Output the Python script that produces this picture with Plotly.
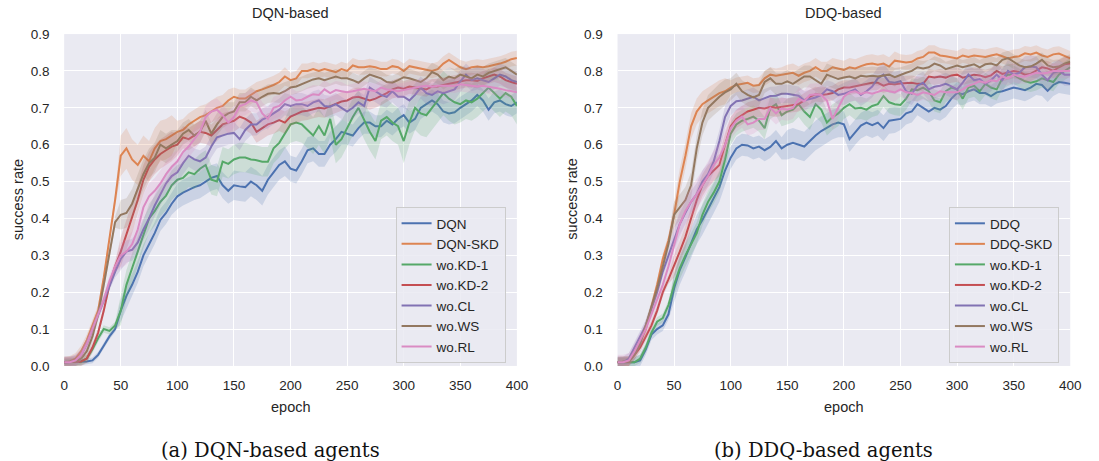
import numpy as np
import plotly.graph_objects as go

# ---------------- data ----------------
epochs = list(range(0, 401, 5))

series_names_left = ["DQN", "DQN-SKD", "wo.KD-1", "wo.KD-2", "wo.CL", "wo.WS", "wo.RL"]
series_names_right = ["DDQ", "DDQ-SKD", "wo.KD-1", "wo.KD-2", "wo.CL", "wo.WS", "wo.RL"]

# DQN-based panel (mean success rate every 5 epochs)
dqn_dqn = [
    0.010, 0.010, 0.010, 0.010, 0.012, 0.015, 0.030, 0.055, 0.080, 0.100,
    0.150, 0.190, 0.220, 0.255, 0.300, 0.330, 0.360, 0.396, 0.415, 0.440,
    0.460, 0.470, 0.478, 0.485, 0.490, 0.500, 0.510, 0.515, 0.490, 0.475,
    0.490, 0.487, 0.485, 0.500, 0.490, 0.475, 0.505, 0.525, 0.545, 0.555,
    0.535, 0.530, 0.555, 0.585, 0.590, 0.575, 0.575, 0.600, 0.615, 0.635,
    0.630, 0.625, 0.645, 0.660, 0.660, 0.650, 0.650, 0.665, 0.655, 0.670,
    0.680, 0.660, 0.670, 0.700, 0.710, 0.720, 0.710, 0.690, 0.685, 0.688,
    0.700, 0.710, 0.720, 0.735, 0.720, 0.695, 0.715, 0.720, 0.710, 0.705,
    0.715]
dqn_skd = [
    0.010, 0.012, 0.020, 0.040, 0.070, 0.110, 0.150, 0.240, 0.340, 0.450,
    0.570, 0.590, 0.560, 0.545, 0.570, 0.555, 0.590, 0.610, 0.615, 0.625,
    0.635, 0.640, 0.655, 0.665, 0.675, 0.680, 0.690, 0.700, 0.705, 0.720,
    0.730, 0.725, 0.725, 0.735, 0.745, 0.750, 0.755, 0.762, 0.770, 0.785,
    0.775, 0.780, 0.800, 0.800, 0.805, 0.800, 0.805, 0.800, 0.797, 0.805,
    0.800, 0.815, 0.810, 0.810, 0.813, 0.810, 0.805, 0.805, 0.813, 0.810,
    0.800, 0.813, 0.810, 0.806, 0.805, 0.800, 0.805, 0.820, 0.830, 0.820,
    0.810, 0.805, 0.810, 0.812, 0.810, 0.813, 0.816, 0.820, 0.825, 0.832,
    0.835]
dqn_kd1 = [
    0.010, 0.010, 0.010, 0.012, 0.020, 0.045, 0.075, 0.100, 0.095, 0.110,
    0.150, 0.220, 0.265, 0.310, 0.360, 0.400, 0.420, 0.445, 0.462, 0.490,
    0.505, 0.510, 0.525, 0.520, 0.535, 0.545, 0.505, 0.500, 0.554, 0.548,
    0.560, 0.565, 0.565, 0.560, 0.558, 0.554, 0.554, 0.590, 0.605, 0.630,
    0.655, 0.660, 0.655, 0.640, 0.625, 0.650, 0.625, 0.670, 0.600, 0.615,
    0.645, 0.675, 0.700, 0.665, 0.635, 0.610, 0.665, 0.675, 0.660, 0.650,
    0.610, 0.660, 0.700, 0.685, 0.680, 0.700, 0.720, 0.740, 0.725, 0.715,
    0.710, 0.720, 0.715, 0.725, 0.740, 0.755, 0.740, 0.725, 0.740, 0.730,
    0.705]
dqn_kd2 = [
    0.010, 0.010, 0.010, 0.012, 0.020, 0.050, 0.090, 0.150, 0.220, 0.270,
    0.310, 0.355, 0.400, 0.450, 0.505, 0.540, 0.560, 0.575, 0.585, 0.595,
    0.600, 0.620, 0.615, 0.625, 0.635, 0.632, 0.625, 0.640, 0.655, 0.660,
    0.665, 0.676, 0.670, 0.660, 0.635, 0.645, 0.655, 0.660, 0.667, 0.660,
    0.676, 0.683, 0.690, 0.692, 0.697, 0.700, 0.698, 0.705, 0.712, 0.717,
    0.720, 0.728, 0.730, 0.725, 0.720, 0.725, 0.732, 0.740, 0.750, 0.755,
    0.752, 0.758, 0.755, 0.753, 0.750, 0.758, 0.758, 0.762, 0.765, 0.768,
    0.772, 0.775, 0.775, 0.773, 0.780, 0.785, 0.790, 0.785, 0.775, 0.770,
    0.765]
dqn_cl = [
    0.010, 0.010, 0.015, 0.030, 0.060, 0.100, 0.140, 0.180, 0.220, 0.255,
    0.290, 0.310, 0.315, 0.335, 0.370, 0.400, 0.435, 0.466, 0.495, 0.515,
    0.525, 0.550, 0.570, 0.560, 0.555, 0.565, 0.595, 0.620, 0.625, 0.630,
    0.632, 0.615, 0.640, 0.655, 0.655, 0.668, 0.675, 0.685, 0.695, 0.710,
    0.705, 0.710, 0.710, 0.705, 0.715, 0.720, 0.705, 0.703, 0.710, 0.700,
    0.690, 0.700, 0.715, 0.705, 0.755, 0.745, 0.735, 0.730, 0.745, 0.730,
    0.730, 0.720, 0.735, 0.755, 0.740, 0.735, 0.745, 0.740, 0.745, 0.750,
    0.772, 0.790, 0.775, 0.780, 0.775, 0.770, 0.780, 0.790, 0.785, 0.775,
    0.770]
dqn_ws = [
    0.010, 0.010, 0.012, 0.020, 0.040, 0.080, 0.140, 0.220, 0.300, 0.390,
    0.410, 0.415, 0.440, 0.480, 0.520, 0.550, 0.565, 0.600, 0.590, 0.600,
    0.610, 0.630, 0.640, 0.625, 0.635, 0.665, 0.630, 0.655, 0.675, 0.685,
    0.690, 0.715, 0.715, 0.730, 0.720, 0.730, 0.738, 0.740, 0.738, 0.745,
    0.755, 0.758, 0.765, 0.772, 0.777, 0.780, 0.775, 0.780, 0.785, 0.780,
    0.780, 0.775, 0.768, 0.780, 0.790, 0.785, 0.780, 0.770, 0.768, 0.775,
    0.783, 0.780, 0.775, 0.770, 0.780, 0.797, 0.790, 0.775, 0.785, 0.780,
    0.790, 0.785, 0.780, 0.790, 0.785, 0.795, 0.800, 0.805, 0.810, 0.800,
    0.790]
dqn_rl = [
    0.010, 0.010, 0.015, 0.030, 0.060, 0.100, 0.140, 0.180, 0.230, 0.270,
    0.300, 0.310, 0.330, 0.370, 0.430, 0.460, 0.475, 0.495, 0.520, 0.540,
    0.555, 0.580, 0.595, 0.615, 0.635, 0.675, 0.690, 0.695, 0.680, 0.660,
    0.675, 0.705, 0.710, 0.720, 0.715, 0.685, 0.670, 0.700, 0.705, 0.720,
    0.730, 0.720, 0.722, 0.730, 0.737, 0.735, 0.750, 0.740, 0.748, 0.745,
    0.742, 0.745, 0.748, 0.752, 0.748, 0.745, 0.755, 0.750, 0.748, 0.745,
    0.748, 0.752, 0.755, 0.758, 0.760, 0.757, 0.760, 0.760, 0.762, 0.760,
    0.764, 0.762, 0.760, 0.758, 0.760, 0.758, 0.755, 0.752, 0.748, 0.745,
    0.742]

# DDQ-based panel
ddq_ddq = [
    0.010, 0.010, 0.010, 0.010, 0.015, 0.045, 0.085, 0.100, 0.110, 0.140,
    0.210, 0.260, 0.295, 0.330, 0.370, 0.396, 0.425, 0.455, 0.485, 0.530,
    0.565, 0.590, 0.600, 0.598, 0.590, 0.595, 0.585, 0.594, 0.610, 0.590,
    0.600, 0.605, 0.600, 0.595, 0.610, 0.625, 0.637, 0.645, 0.655, 0.660,
    0.655, 0.615, 0.635, 0.652, 0.660, 0.653, 0.660, 0.645, 0.665, 0.667,
    0.670, 0.685, 0.690, 0.710, 0.700, 0.690, 0.700, 0.695, 0.705, 0.725,
    0.740, 0.737, 0.745, 0.750, 0.740, 0.740, 0.732, 0.742, 0.745, 0.750,
    0.755, 0.752, 0.748, 0.755, 0.765, 0.762, 0.746, 0.762, 0.770, 0.768,
    0.765]
ddq_skd = [
    0.010, 0.010, 0.012, 0.040, 0.065, 0.100, 0.160, 0.220, 0.290, 0.340,
    0.410, 0.500, 0.570, 0.650, 0.690, 0.710, 0.720, 0.730, 0.740, 0.745,
    0.755, 0.762, 0.765, 0.768, 0.760, 0.762, 0.780, 0.790, 0.787, 0.790,
    0.792, 0.795, 0.787, 0.795, 0.800, 0.810, 0.800, 0.800, 0.810, 0.806,
    0.803, 0.810, 0.807, 0.813, 0.818, 0.820, 0.817, 0.820, 0.812, 0.828,
    0.825, 0.823, 0.825, 0.834, 0.838, 0.850, 0.850, 0.842, 0.840, 0.838,
    0.834, 0.842, 0.838, 0.842, 0.840, 0.838, 0.842, 0.845, 0.840, 0.834,
    0.838, 0.840, 0.848, 0.845, 0.850, 0.842, 0.838, 0.845, 0.847, 0.840,
    0.834]
ddq_kd1 = [
    0.010, 0.010, 0.010, 0.010, 0.020, 0.050, 0.090, 0.120, 0.130, 0.165,
    0.220, 0.265, 0.300, 0.330, 0.360, 0.410, 0.445, 0.470, 0.500, 0.560,
    0.630, 0.655, 0.665, 0.670, 0.676, 0.665, 0.645, 0.700, 0.710, 0.680,
    0.690, 0.695, 0.710, 0.690, 0.675, 0.710, 0.695, 0.660, 0.675, 0.685,
    0.700, 0.710, 0.698, 0.700, 0.695, 0.705, 0.710, 0.732, 0.715, 0.710,
    0.708, 0.725, 0.750, 0.748, 0.755, 0.745, 0.720, 0.715, 0.745, 0.755,
    0.750, 0.725, 0.755, 0.760, 0.745, 0.765, 0.755, 0.750, 0.780, 0.790,
    0.790, 0.780, 0.772, 0.768, 0.772, 0.780, 0.775, 0.770, 0.790, 0.800,
    0.810]
ddq_kd2 = [
    0.010, 0.010, 0.012, 0.030, 0.050, 0.080, 0.110, 0.150, 0.200, 0.235,
    0.270, 0.310, 0.350, 0.400, 0.450, 0.490, 0.515, 0.530, 0.545, 0.600,
    0.650, 0.670, 0.680, 0.690, 0.695, 0.700, 0.698, 0.703, 0.700, 0.703,
    0.705, 0.708, 0.710, 0.720, 0.730, 0.737, 0.735, 0.737, 0.740, 0.750,
    0.755, 0.755, 0.758, 0.762, 0.765, 0.768, 0.768, 0.760, 0.765, 0.764,
    0.766, 0.768, 0.768, 0.765, 0.765, 0.785, 0.782, 0.785, 0.782, 0.788,
    0.790, 0.782, 0.786, 0.790, 0.788, 0.783, 0.788, 0.800, 0.792, 0.795,
    0.800, 0.797, 0.790, 0.792, 0.800, 0.810, 0.807, 0.800, 0.810, 0.818,
    0.820]
ddq_cl = [
    0.010, 0.010, 0.020, 0.050, 0.080, 0.110, 0.155, 0.200, 0.256, 0.300,
    0.345, 0.385, 0.415, 0.445, 0.466, 0.500, 0.520, 0.555, 0.610, 0.675,
    0.705, 0.718, 0.720, 0.725, 0.730, 0.720, 0.725, 0.732, 0.733, 0.738,
    0.738, 0.736, 0.733, 0.720, 0.724, 0.728, 0.735, 0.750, 0.745, 0.735,
    0.738, 0.745, 0.750, 0.735, 0.745, 0.758, 0.780, 0.790, 0.770, 0.768,
    0.772, 0.745, 0.738, 0.760, 0.768, 0.750, 0.757, 0.760, 0.765, 0.758,
    0.750, 0.768, 0.790, 0.775, 0.778, 0.765, 0.775, 0.790, 0.775, 0.800,
    0.790, 0.795, 0.810, 0.812, 0.810, 0.790, 0.775, 0.795, 0.800, 0.790,
    0.790]
ddq_ws = [
    0.010, 0.010, 0.012, 0.030, 0.060, 0.110, 0.160, 0.210, 0.270, 0.330,
    0.410, 0.430, 0.450, 0.490, 0.590, 0.660, 0.700, 0.715, 0.730, 0.742,
    0.750, 0.765, 0.745, 0.735, 0.728, 0.735, 0.770, 0.780, 0.765, 0.765,
    0.772, 0.765, 0.775, 0.785, 0.785, 0.775, 0.765, 0.790, 0.785, 0.778,
    0.782, 0.785, 0.780, 0.787, 0.785, 0.787, 0.785, 0.787, 0.790, 0.783,
    0.790, 0.795, 0.800, 0.810, 0.807, 0.810, 0.820, 0.815, 0.805, 0.810,
    0.815, 0.810, 0.815, 0.818, 0.810, 0.818, 0.820, 0.815, 0.830, 0.835,
    0.825, 0.815, 0.810, 0.812, 0.820, 0.830, 0.815, 0.810, 0.812, 0.820,
    0.825]
ddq_rl = [
    0.010, 0.010, 0.015, 0.040, 0.070, 0.100, 0.140, 0.180, 0.220, 0.270,
    0.330, 0.385, 0.420, 0.445, 0.466, 0.490, 0.515, 0.545, 0.565, 0.600,
    0.645, 0.665, 0.676, 0.655, 0.660, 0.670, 0.670, 0.700, 0.685, 0.698,
    0.695, 0.700, 0.724, 0.718, 0.735, 0.737, 0.735, 0.720, 0.670, 0.700,
    0.730, 0.742, 0.745, 0.738, 0.742, 0.738, 0.742, 0.748, 0.745, 0.742,
    0.750, 0.742, 0.740, 0.735, 0.742, 0.738, 0.735, 0.745, 0.742, 0.742,
    0.742, 0.750, 0.760, 0.765, 0.772, 0.768, 0.775, 0.772, 0.785, 0.780,
    0.790, 0.785, 0.785, 0.790, 0.795, 0.793, 0.795, 0.800, 0.800, 0.800,
    0.800]

# half-width of the shaded band per 50-epoch segment (0-45, 50-95, ..., 350-400)
band_segments = [10, 10, 10, 10, 10, 10, 10, 11]
dqn_band = {
    "DQN":     [0.008, 0.030, 0.035, 0.040, 0.035, 0.030, 0.030, 0.030],
    "DQN-SKD": [0.015, 0.055, 0.030, 0.025, 0.020, 0.020, 0.020, 0.020],
    "wo.KD-1": [0.010, 0.040, 0.040, 0.040, 0.050, 0.050, 0.060, 0.050],
    "wo.KD-2": [0.012, 0.040, 0.030, 0.030, 0.025, 0.025, 0.020, 0.020],
    "wo.CL":   [0.015, 0.030, 0.030, 0.030, 0.030, 0.030, 0.030, 0.030],
    "wo.WS":   [0.015, 0.040, 0.030, 0.025, 0.020, 0.020, 0.025, 0.025],
    "wo.RL":   [0.015, 0.035, 0.030, 0.030, 0.025, 0.020, 0.020, 0.020],
}
ddq_band = {
    "DDQ":     [0.015, 0.040, 0.030, 0.040, 0.035, 0.030, 0.030, 0.030],
    "DDQ-SKD": [0.015, 0.035, 0.020, 0.025, 0.025, 0.020, 0.020, 0.020],
    "wo.KD-1": [0.012, 0.030, 0.030, 0.035, 0.030, 0.030, 0.030, 0.025],
    "wo.KD-2": [0.012, 0.030, 0.025, 0.020, 0.020, 0.020, 0.020, 0.020],
    "wo.CL":   [0.015, 0.030, 0.025, 0.025, 0.030, 0.030, 0.030, 0.030],
    "wo.WS":   [0.015, 0.035, 0.030, 0.030, 0.025, 0.020, 0.020, 0.020],
    "wo.RL":   [0.020, 0.040, 0.030, 0.030, 0.025, 0.020, 0.020, 0.020],
}

x_ticks = [0, 50, 100, 150, 200, 250, 300, 350, 400]
y_ticks = [0.0, 0.1, 0.2, 0.3, 0.4, 0.5, 0.6, 0.7, 0.8, 0.9]
panel_titles = ["DQN-based", "DDQ-based"]
captions = ["(a) DQN-based agents", "(b) DDQ-based agents"]

# ---------------- style ----------------
colors = ["#4C72B0", "#DD8452", "#55A868", "#C44E52", "#8172B3", "#937860", "#DA8BC3"]
W, H = 1099, 461
TXT = "#262626"
FONT = "Liberation Sans, Arial, sans-serif"


def rgba(hexc, a):
    h = hexc.lstrip("#")
    return "rgba(%d,%d,%d,%.2f)" % (int(h[0:2], 16), int(h[2:4], 16), int(h[4:6], 16), a)


fig = go.Figure()


def add_panel(names, values, bands, xa, ya, legend):
    for name, vals, col in zip(names, values, colors):
        v = np.array(vals, dtype=float)
        w = np.repeat(np.array(bands[name]), band_segments)
        lo = np.clip(v - w, 0, None)
        hi = v + w
        fig.add_trace(go.Scatter(
            x=epochs + epochs[::-1], y=list(hi) + list(lo[::-1]),
            fill="toself", fillcolor=rgba(col, 0.2), line=dict(width=0),
            mode="lines", hoverinfo="skip", showlegend=False,
            xaxis=xa, yaxis=ya))
        fig.add_trace(go.Scatter(
            x=epochs, y=v, mode="lines", name=name,
            line=dict(color=col, width=2),
            xaxis=xa, yaxis=ya, legend=legend))


add_panel(series_names_left, [dqn_dqn, dqn_skd, dqn_kd1, dqn_kd2, dqn_cl, dqn_ws, dqn_rl],
          dqn_band, "x", "y", "legend")
add_panel(series_names_right, [ddq_ddq, ddq_skd, ddq_kd1, ddq_kd2, ddq_cl, ddq_ws, ddq_rl],
          ddq_band, "x2", "y2", "legend2")

# pixel geometry
L1, R1 = 61, 520
OFF = 561
TOP, BOT = 28, 371


def px(xp):
    return xp / W


def py(yp):
    return 1 - yp / H


axis_common = dict(showgrid=True, gridcolor="white", gridwidth=1.3, zeroline=False,
                   showline=False, ticks="outside", tickcolor="rgba(0,0,0,0)",
                   tickfont=dict(family=FONT, size=13.5, color=TXT))
xaxis_common = dict(range=[0, 400], tickvals=x_ticks, ticklen=7, **axis_common)
yaxis_common = dict(domain=[py(BOT), py(TOP)], range=[0, 0.9], tickvals=y_ticks,
                    tickformat=".1f", ticklen=11, **axis_common)

fig.update_layout(
    width=W, height=H, margin=dict(l=0, r=0, t=0, b=0),
    paper_bgcolor="white", plot_bgcolor="#EAEAF2",
    xaxis=dict(domain=[px(L1), px(R1)], anchor="y", **xaxis_common),
    yaxis=dict(anchor="x", **yaxis_common),
    xaxis2=dict(domain=[px(L1 + OFF), px(R1 + OFF)], anchor="y2", **xaxis_common),
    yaxis2=dict(anchor="x2", **yaxis_common),
    showlegend=True,
)

legend_common = dict(xanchor="left", yanchor="bottom", bgcolor="rgba(234,234,242,0.85)",
                     bordercolor="#CCCCCC", borderwidth=1,
                     font=dict(family=FONT, size=13.5, color=TXT),
                     itemwidth=30, tracegroupgap=0, traceorder="normal")
fig.update_layout(
    legend=dict(x=px(397), y=py(368), **legend_common),
    legend2=dict(x=px(397 + OFF), y=py(368), **legend_common),
)

ann = []
for i in range(2):
    o = OFF * i
    cx = (L1 + R1) / 2 + o
    ann.append(dict(text=panel_titles[i], x=px(cx), y=py(6), xref="paper", yref="paper",
                    showarrow=False, xanchor="center", yanchor="middle",
                    font=dict(family=FONT, size=14.5, color=TXT)))
    ann.append(dict(text="epoch", x=px(cx), y=py(413), xref="paper", yref="paper",
                    showarrow=False, xanchor="center", yanchor="middle",
                    font=dict(family=FONT, size=14.5, color=TXT)))
    ann.append(dict(text="success rate", x=px(14 + o), y=py(199), xref="paper", yref="paper",
                    showarrow=False, xanchor="center", yanchor="middle", textangle=-90,
                    font=dict(family=FONT, size=14.5, color=TXT)))
    ann.append(dict(text=captions[i], x=px(270 + o), y=py(458), xref="paper", yref="paper",
                    showarrow=False, xanchor="center", yanchor="middle",
                    font=dict(family="DejaVu Serif, serif", size=19.5, color="#111111")))
fig.update_layout(annotations=ann)

fig.write_html("out.html")
